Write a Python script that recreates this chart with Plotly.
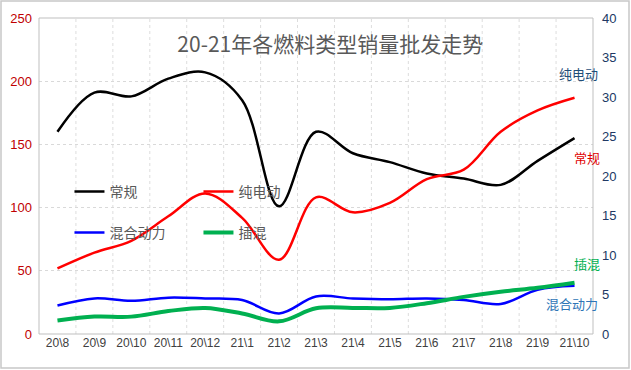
import plotly.graph_objects as go

months = ["20\\8", "20\\9", "20\\10", "20\\11", "20\\12", "21\\1", "21\\2", "21\\3",
          "21\\4", "21\\5", "21\\6", "21\\7", "21\\8", "21\\9", "21\\10"]
conventional = [160, 191, 188, 202, 207, 185, 101, 160, 143, 136, 127, 123, 118, 137, 155]
bev = [8.3, 10.3, 11.8, 14.9, 17.8, 14.7, 9.4, 17.3, 15.4, 16.6, 19.6, 20.8, 25.6, 28.3, 29.9]
hev = [3.6, 4.5, 4.2, 4.6, 4.5, 4.3, 2.6, 4.75, 4.5, 4.4, 4.5, 4.3, 3.8, 5.6, 6.1]
phev = [1.7, 2.2, 2.2, 2.9, 3.3, 2.6, 1.6, 3.25, 3.3, 3.3, 3.9, 4.7, 5.35, 5.85, 6.5]

left_ticks = [0, 50, 100, 150, 200, 250]
right_ticks = [0, 5, 10, 15, 20, 25, 30, 35, 40]

FONT = "Noto Sans CJK SC, Liberation Sans, sans-serif"
W, H = 631, 370
ML, MR, MT, MB = 39, 38, 18, 36
PW, PH = W - ML - MR, H - MT - MB


def px(xp):
    return (xp - ML) / PW


def py(yp):
    return (H - MB - yp) / PH


fig = go.Figure()
fig.add_trace(go.Scatter(x=months, y=conventional, name="常规", mode="lines",
                         line=dict(color="#000000", width=2.5, shape="spline"),
                         legend="legend"))
fig.add_trace(go.Scatter(x=months, y=bev, name="纯电动", mode="lines", yaxis="y2",
                         line=dict(color="#FF0000", width=2.5, shape="spline"),
                         legend="legend"))
fig.add_trace(go.Scatter(x=months, y=hev, name="混合动力", mode="lines", yaxis="y2",
                         line=dict(color="#0000FF", width=2.5, shape="spline"),
                         legend="legend2"))
fig.add_trace(go.Scatter(x=months, y=phev, name="插混", mode="lines", yaxis="y2",
                         line=dict(color="#00B050", width=4, shape="spline"),
                         legend="legend2"))

# category boundary gridlines (dotted)
for i in range(1, len(months)):
    fig.add_shape(type="line", xref="x", yref="paper", x0=i - 0.5, x1=i - 0.5, y0=0, y1=1,
                  line=dict(color="#DDDDDD", width=1, dash="dot"), layer="below")
# plot area border
fig.add_shape(type="rect", xref="paper", yref="paper", x0=0, x1=1, y0=0, y1=1,
              line=dict(color="#BFBFBF", width=1))
# outer chart border
fig.add_shape(type="rect", xref="paper", yref="paper",
              x0=px(1), x1=px(W - 2), y0=py(H - 2), y1=py(1),
              line=dict(color="#C8C8C8", width=1.5))

legend_common = dict(orientation="h", bgcolor="rgba(0,0,0,0)", entrywidth=84,
                     font=dict(family=FONT, size=14, color="#595959"),
                     xanchor="left", yanchor="middle", itemwidth=30, tracegroupgap=0)

fig.update_layout(
    width=W, height=H,
    margin=dict(l=ML, r=MR, t=MT, b=MB, autoexpand=False),
    paper_bgcolor="white", plot_bgcolor="white",
    font=dict(family=FONT),
    title=dict(text="20-21年各燃料类型销量批发走势", x=px(329), xanchor="center",
               y=1 - 45 / H, yanchor="middle",
               font=dict(family=FONT, size=21, color="#595959")),
    xaxis=dict(type="category", range=[-0.5, len(months) - 0.5], showgrid=False,
               tickfont=dict(family="Liberation Sans, sans-serif", size=12, color="#404040"),
               ticks="", showline=False, zeroline=False),
    yaxis=dict(range=[0, 250], tickvals=left_ticks, showgrid=True,
               gridcolor="#D9D9D9", griddash="dot", gridwidth=1, zeroline=False,
               tickfont=dict(family="Liberation Sans, sans-serif", size=13, color="#C00000"),
               ticks="", ticklabelstandoff=6),
    yaxis2=dict(range=[0, 40], tickvals=right_ticks, overlaying="y", side="right",
                showgrid=False, zeroline=False,
                tickfont=dict(family="Liberation Sans, sans-serif", size=13, color="#203864"),
                ticks="", ticklabelstandoff=8),
    legend=dict(x=0.055, y=py(192), **legend_common),
    legend2=dict(x=0.055, y=py(233), **legend_common),
    annotations=[
        dict(text="纯电动", xref="paper", yref="paper", x=px(578), y=py(73),
             showarrow=False, font=dict(family=FONT, size=13, color="#1F4E79"),
             xanchor="center", yanchor="middle"),
        dict(text="常规", xref="paper", yref="paper", x=px(587), y=py(157),
             showarrow=False, font=dict(family=FONT, size=13, color="#E00000"),
             xanchor="center", yanchor="middle"),
        dict(text="插混", xref="paper", yref="paper", x=px(587), y=py(263),
             showarrow=False, font=dict(family=FONT, size=13, color="#00B050"),
             xanchor="center", yanchor="middle"),
        dict(text="混合动力", xref="paper", yref="paper", x=px(572), y=py(303),
             showarrow=False, font=dict(family=FONT, size=13, color="#2E75B6"),
             xanchor="center", yanchor="middle"),
    ],
)

fig.write_html("out.html", config={"displayModeBar": False},
               post_script="document.body.style.margin='0';")
